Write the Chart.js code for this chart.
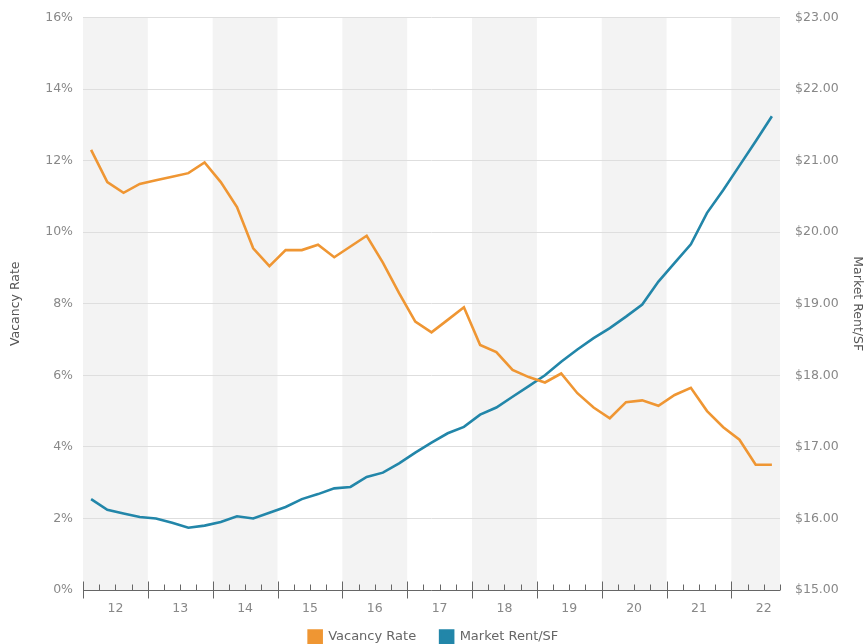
<!DOCTYPE html>
<html lang="en">
<head>
<meta charset="UTF-8">
<title>Vacancy Rate &amp; Market Rent/SF</title>
<script src="https://cdn.jsdelivr.net/npm/chart.js"></script>
<style>
    html, body { margin: 0; padding: 0; background: #fff; }
    #wrap { width: 867px; height: 644px; }
</style>
</head>
<body>
<div id="wrap"><canvas id="chart"></canvas></div>

<script>
    // quarterly series, 2012 Q1 .. 2022 Q3
    const years = ['12', '13', '14', '15', '16', '17', '18', '19', '20', '21', '22'];
    const quarters = years.flatMap(y => ['Q1', 'Q2', 'Q3', 'Q4'].map(q => y + ' ' + q)).slice(0, 43);

    const vacancyRate = [
        12.3, 11.4, 11.1, 11.35,
        11.45, 11.55, 11.65, 11.95,
        11.4, 10.7, 9.55, 9.05,
        9.5, 9.5, 9.65, 9.3,
        9.6, 9.9, 9.15, 8.3,
        7.5, 7.2, 7.55, 7.9,
        6.85, 6.65, 6.15, 5.95,
        5.8, 6.05, 5.5, 5.1,
        4.8, 5.25, 5.3, 5.15,
        5.45, 5.65, 5.0, 4.55,
        4.2, 3.5, 3.5
    ];
    const marketRent = [
        16.27, 16.12, 16.07, 16.02,
        16.0, 15.94, 15.87, 15.9,
        15.95, 16.03, 16.0, 16.08,
        16.16, 16.27, 16.34, 16.42,
        16.44, 16.58, 16.64, 16.77,
        16.92, 17.06, 17.19, 17.28,
        17.45, 17.55, 17.7, 17.85,
        18.0, 18.19, 18.36, 18.52,
        18.66, 18.82, 18.99, 19.31,
        19.57, 19.83, 20.27, 20.59,
        20.93, 21.27, 21.62
    ];

    const ORANGE = '#ef9633';
    const BLUE = '#2286a9';
    const FONT = 'DejaVu Sans';

    // grey band behind every other year
    const yearBands = {
        id: 'yearBands',
        beforeDraw(chart) {
            const { ctx, chartArea: a, scales: { x } } = chart;
            const half = (x.getPixelForValue(1) - x.getPixelForValue(0)) / 2;
            ctx.save();
            ctx.fillStyle = '#f3f3f3';
            years.forEach((yr, k) => {
                if (k % 2) return;
                const first = k * 4;
                const last = Math.min(first + 3, quarters.length - 1);
                const left = x.getPixelForValue(first) - half;
                const right = x.getPixelForValue(last) + half;
                ctx.fillRect(left, a.top, right - left, a.bottom - a.top);
            });
            ctx.restore();
        }
    };

    // baseline with long ticks at year breaks, short ones at quarter breaks,
    // and the year name under the middle of each year
    const yearAxis = {
        id: 'yearAxis',
        afterDatasetsDraw(chart) {
            const { ctx, chartArea: a, scales: { x } } = chart;
            const step = x.getPixelForValue(1) - x.getPixelForValue(0);
            const start = x.getPixelForValue(0) - step / 2;
            const base = Math.round(a.bottom) + 0.5;
            ctx.save();
            ctx.strokeStyle = '#666';
            ctx.lineWidth = 1;
            ctx.beginPath();
            ctx.moveTo(a.left, base);
            ctx.lineTo(a.right, base);
            for (let i = 0; i <= quarters.length; i++) {
                const px = Math.round(start + i * step) + 0.5;
                if (i % 4 === 0) {
                    ctx.moveTo(px, base - 9);
                    ctx.lineTo(px, base + 8);
                } else {
                    ctx.moveTo(px, base - 6);
                    ctx.lineTo(px, base);
                }
            }
            ctx.stroke();

            ctx.fillStyle = '#888';
            ctx.font = '12.5px "' + FONT + '"';
            ctx.textAlign = 'center';
            ctx.textBaseline = 'middle';
            years.forEach((yr, k) => {
                ctx.fillText(yr, start + (k * 4 + 2) * step, base + 18);
            });
            ctx.restore();
        }
    };

    const tickFont = { family: FONT, size: 12.5 };

    new Chart(document.getElementById('chart'), {
        type: 'line',
        data: {
            labels: quarters,
            datasets: [
                {
                    label: 'Vacancy Rate',
                    data: vacancyRate,
                    yAxisID: 'y',
                    borderColor: ORANGE,
                    backgroundColor: ORANGE,
                    borderWidth: 2.6,
                    pointRadius: 0,
                    tension: 0
                },
                {
                    label: 'Market Rent/SF',
                    data: marketRent,
                    yAxisID: 'y1',
                    borderColor: BLUE,
                    backgroundColor: BLUE,
                    borderWidth: 2.6,
                    pointRadius: 0,
                    tension: 0
                }
            ]
        },
        options: {
            responsive: true,
            maintainAspectRatio: false,
            animation: false,
            // legend box hangs a little below the canvas so its items sit low
            layout: { padding: { top: 12, left: 0, right: 0, bottom: -9.5 } },
            plugins: {
                tooltip: { enabled: false },
                legend: {
                    position: 'bottom',
                    labels: {
                        boxWidth: 13,
                        boxHeight: 13,
                        padding: 24,
                        color: '#666',
                        font: { family: FONT, size: 13 }
                    }
                }
            },
            scales: {
                x: {
                    offset: true,
                    grid: { display: false },
                    border: { display: false },
                    ticks: { display: false },
                    afterFit: s => { s.height = 16.5; }
                },
                y: {
                    position: 'left',
                    min: 0,
                    max: 16,
                    ticks: {
                        stepSize: 2,
                        padding: 10,
                        color: '#888',
                        font: tickFont,
                        callback: v => v + '%'
                    },
                    grid: { color: '#dedede', drawTicks: false },
                    border: { display: false },
                    title: {
                        display: true,
                        text: 'Vacancy Rate',
                        color: '#555',
                        font: { family: FONT, size: 12.5 },
                        padding: { top: 8, bottom: 0 }
                    },
                    afterFit: s => { s.width = 83; }
                },
                y1: {
                    position: 'right',
                    min: 15,
                    max: 23,
                    ticks: {
                        stepSize: 1,
                        padding: 7,
                        color: '#888',
                        font: tickFont,
                        callback: v => '$' + v.toFixed(2)
                    },
                    grid: { display: false },
                    border: { display: false },
                    title: {
                        display: true,
                        text: 'Market Rent/SF',
                        color: '#555',
                        font: { family: FONT, size: 12.5 },
                        padding: { top: 2, bottom: 0 }
                    },
                    afterFit: s => { s.width = 87; }
                }
            }
        },
        plugins: [yearBands, yearAxis]
    });
</script>
</body>
</html>
